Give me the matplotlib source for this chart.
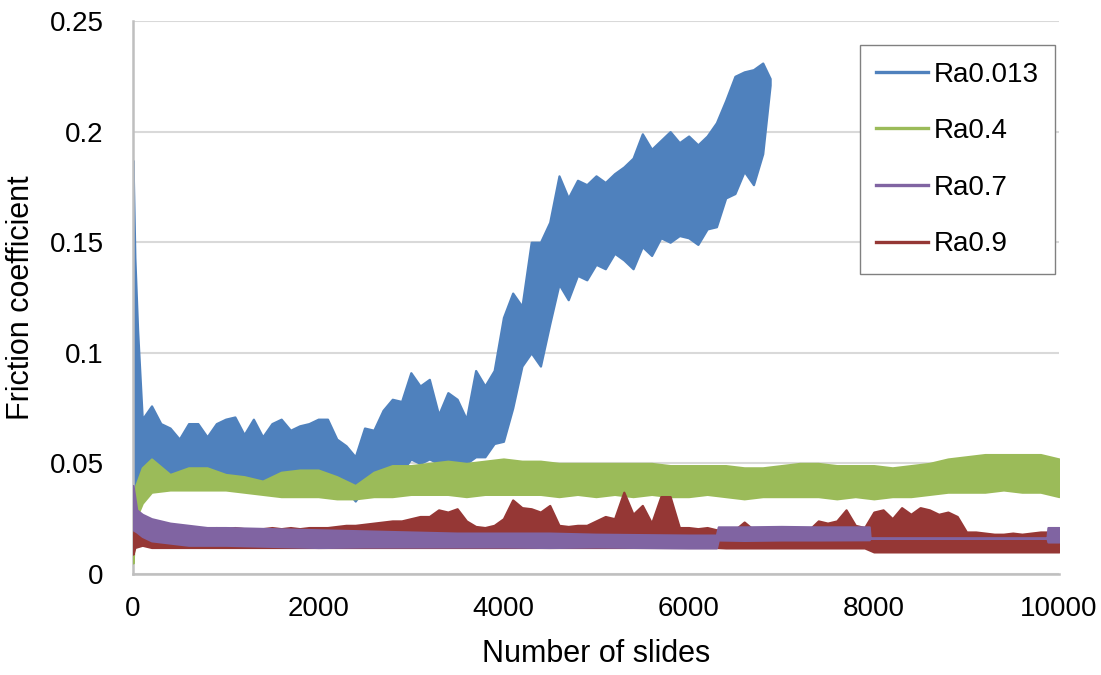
import numpy as np
import matplotlib.pyplot as plt
from matplotlib.lines import Line2D
from matplotlib.ticker import FormatStrFormatter

plt.rcParams['font.family'] = ['Liberation Sans', 'DejaVu Sans']

# Each trace is very noisy, so it is kept as a lower / upper envelope read off the picture
# Ra0.013 (blue)
blue_x = [0, 20, 50] + list(range(100, 6801, 100)) + [6880]
blue_lo = [0.005, 0.040, 0.042,
           0.044, 0.043, 0.045, 0.042, 0.040, 0.044, 0.043, 0.042, 0.044, 0.043,
           0.042, 0.044, 0.043, 0.041, 0.043, 0.042, 0.040, 0.043, 0.042, 0.041,
           0.042, 0.040, 0.038, 0.033, 0.039, 0.039, 0.041, 0.044, 0.046, 0.052,
           0.050, 0.052, 0.050, 0.047, 0.050, 0.050, 0.053, 0.053, 0.059, 0.060,
           0.075, 0.094, 0.100, 0.094, 0.113, 0.131, 0.124, 0.135, 0.133, 0.140,
           0.138, 0.145, 0.142, 0.138, 0.148, 0.144, 0.152, 0.150, 0.153, 0.152,
           0.149, 0.156, 0.157, 0.170, 0.172, 0.182, 0.176, 0.190,
           0.221]
blue_hi = [0.187, 0.143, 0.110,
           0.070, 0.076, 0.068, 0.066, 0.061, 0.068, 0.068, 0.062, 0.068, 0.070,
           0.071, 0.063, 0.070, 0.062, 0.068, 0.070, 0.065, 0.067, 0.068, 0.070,
           0.070, 0.061, 0.058, 0.053, 0.066, 0.065, 0.074, 0.079, 0.078, 0.091,
           0.085, 0.088, 0.072, 0.082, 0.079, 0.070, 0.092, 0.085, 0.092, 0.116,
           0.127, 0.121, 0.150, 0.150, 0.159, 0.180, 0.170, 0.178, 0.176, 0.180,
           0.177, 0.181, 0.184, 0.188, 0.199, 0.192, 0.196, 0.200, 0.195, 0.198,
           0.194, 0.198, 0.204, 0.214, 0.225, 0.227, 0.228, 0.231,
           0.224]

# Ra0.4 (green)
green_x = [0, 30, 100] + list(range(200, 10001, 200))
green_lo = [0.005, 0.025, 0.032,
            0.037, 0.038, 0.038, 0.038, 0.038, 0.037, 0.036, 0.035, 0.035, 0.035,
            0.034, 0.034, 0.035, 0.035, 0.036, 0.036, 0.036, 0.035, 0.036, 0.036,
            0.036, 0.036, 0.035, 0.036, 0.035, 0.036, 0.035, 0.036, 0.035, 0.035,
            0.036, 0.035, 0.034, 0.035, 0.035, 0.035, 0.035, 0.034, 0.035, 0.034,
            0.035, 0.035, 0.036, 0.037, 0.037, 0.037, 0.038, 0.037, 0.037, 0.035]
green_hi = [0.010, 0.040, 0.048,
            0.052, 0.045, 0.048, 0.048, 0.045, 0.044, 0.042, 0.046, 0.047, 0.047,
            0.044, 0.040, 0.046, 0.049, 0.049, 0.050, 0.051, 0.050, 0.051, 0.052,
            0.051, 0.051, 0.050, 0.050, 0.050, 0.050, 0.050, 0.050, 0.049, 0.049,
            0.049, 0.049, 0.048, 0.048, 0.049, 0.050, 0.050, 0.049, 0.049, 0.049,
            0.048, 0.049, 0.050, 0.052, 0.053, 0.054, 0.054, 0.054, 0.054, 0.052]

# Ra0.7 (purple)
purple_x = [0, 40, 100, 200, 400, 600, 800, 1000, 1500, 2000, 2500, 3000, 3500,
            4000, 4500, 5000, 5500, 6000, 6300, 6320, 6600, 7000, 7400, 7950,
            7960, 9870, 9880, 10000]
purple_lo = [0.020, 0.019, 0.017, 0.015, 0.014, 0.013, 0.013, 0.013, 0.0125,
             0.012, 0.0122, 0.0122, 0.0122, 0.0122, 0.012, 0.0122, 0.012, 0.0118,
             0.0118, 0.0154, 0.0152, 0.0154, 0.0154, 0.0155,
             0.0162, 0.0162, 0.0145, 0.0145]
purple_hi = [0.040, 0.029, 0.027, 0.025, 0.023, 0.022, 0.021, 0.021, 0.0205,
             0.020, 0.0195, 0.019, 0.0185, 0.0185, 0.0185, 0.0180, 0.0178, 0.0176,
             0.0176, 0.0213, 0.0213, 0.0215, 0.0213, 0.0213,
             0.0162, 0.0162, 0.021, 0.021]

# Ra0.9 (dark red)
red_x = [0, 20] + list(range(100, 10001, 100))
red_lo = [0.009, 0.012,
          0.013, 0.012, 0.012, 0.012, 0.012, 0.012, 0.012, 0.012, 0.012, 0.012,
          0.012, 0.012, 0.012, 0.012, 0.012, 0.012, 0.012, 0.012, 0.012, 0.012,
          0.012, 0.012, 0.012, 0.012, 0.012, 0.012, 0.012, 0.012, 0.012, 0.012,
          0.012, 0.012, 0.012, 0.012, 0.012, 0.012, 0.012, 0.012, 0.012, 0.012,
          0.012, 0.012, 0.012, 0.012, 0.012, 0.012, 0.012, 0.012, 0.012, 0.012,
          0.012, 0.012, 0.012, 0.012, 0.012, 0.012, 0.012, 0.012, 0.012, 0.012,
          0.012, 0.012, 0.012, 0.0118, 0.0118, 0.0118, 0.0118, 0.0118, 0.0118,
          0.0118, 0.0118, 0.0118, 0.0118, 0.0118, 0.0118, 0.0118, 0.0118, 0.0118,
          0.0118, 0.010, 0.010, 0.010, 0.010, 0.010, 0.010, 0.010, 0.010, 0.010,
          0.010, 0.010, 0.010, 0.010, 0.010, 0.010, 0.010, 0.010, 0.010, 0.010,
          0.010, 0.010]
red_hi = [0.013, 0.029,
          0.0245, 0.023, 0.022, 0.022, 0.0215, 0.021, 0.021, 0.0205, 0.021, 0.0205,
          0.021, 0.0205, 0.0205, 0.0205, 0.021, 0.0205, 0.021, 0.0205, 0.021, 0.021,
          0.021, 0.0215, 0.022, 0.022, 0.0225, 0.023, 0.0235, 0.024, 0.024, 0.025,
          0.026, 0.026, 0.029, 0.028, 0.0295, 0.024, 0.0215, 0.021, 0.022, 0.025,
          0.0335, 0.030, 0.0295, 0.028, 0.031, 0.022, 0.0215, 0.022, 0.022, 0.024,
          0.026, 0.025, 0.037, 0.027, 0.031, 0.023, 0.035, 0.035, 0.021, 0.021,
          0.0205, 0.021, 0.020, 0.020, 0.020, 0.0235, 0.020, 0.020, 0.020, 0.020,
          0.020, 0.020, 0.020, 0.024, 0.023, 0.024, 0.029, 0.022, 0.021, 0.028,
          0.029, 0.025, 0.030, 0.027, 0.030, 0.029, 0.027, 0.028, 0.026, 0.019,
          0.019, 0.0185, 0.018, 0.018, 0.0185, 0.018, 0.0185, 0.019, 0.019, 0.019]

labels = ['Ra0.013', 'Ra0.4', 'Ra0.7', 'Ra0.9']
colors = ['#4f81bd', '#9bbb59', '#8064a2', '#953735']

fig = plt.figure(figsize=(11.01, 6.75), dpi=100)
ax = fig.add_axes([0.1208, 0.1496, 0.8411, 0.8193])


def draw_band(x, lo, hi, color, z):
    ax.fill_between(x, lo, hi, facecolor=color, edgecolor=color,
                    linewidth=1.6, joinstyle='round', zorder=z)


draw_band(blue_x, blue_lo, blue_hi, colors[0], 2)
draw_band(green_x, green_lo, green_hi, colors[1], 3)
draw_band(red_x, red_lo, red_hi, colors[3], 4)
draw_band(purple_x, purple_lo, purple_hi, colors[2], 5)

ax.set_xlim(0, 10000)
ax.set_ylim(0, 0.25)
ax.set_xticks(np.arange(0, 10001, 2000))
ax.set_yticks(np.arange(0, 0.2501, 0.05))
ax.yaxis.set_major_formatter(FormatStrFormatter('%g'))
ax.tick_params(length=0, labelsize=20)
ax.tick_params(axis='y', pad=21)
ax.tick_params(axis='x', pad=16)
ax.grid(axis='y', color='#d9d9d9', linewidth=1.5, zorder=0)
ax.set_axisbelow(True)
for s in ['top', 'right']:
    ax.spines[s].set_visible(False)
for s in ['left', 'bottom']:
    ax.spines[s].set_color('#bfbfbf')
    ax.spines[s].set_linewidth(1.8)

ax.set_xlabel('Number of slides', fontsize=22, labelpad=12)
ax.set_ylabel('Friction coefficient', fontsize=22, labelpad=10)

handles = [Line2D([], [], color=c, lw=2.4) for c in colors]
leg = ax.legend(handles, labels, loc='upper right', bbox_to_anchor=(0.9957, 0.9566),
                fontsize=20, frameon=True, fancybox=False, framealpha=1,
                edgecolor='#808080', handlelength=1.85, handletextpad=0.2,
                labelspacing=1.1, borderpad=0.6, borderaxespad=0)
leg.get_frame().set_linewidth(1.0)

fig.savefig('out.png', dpi=100)
